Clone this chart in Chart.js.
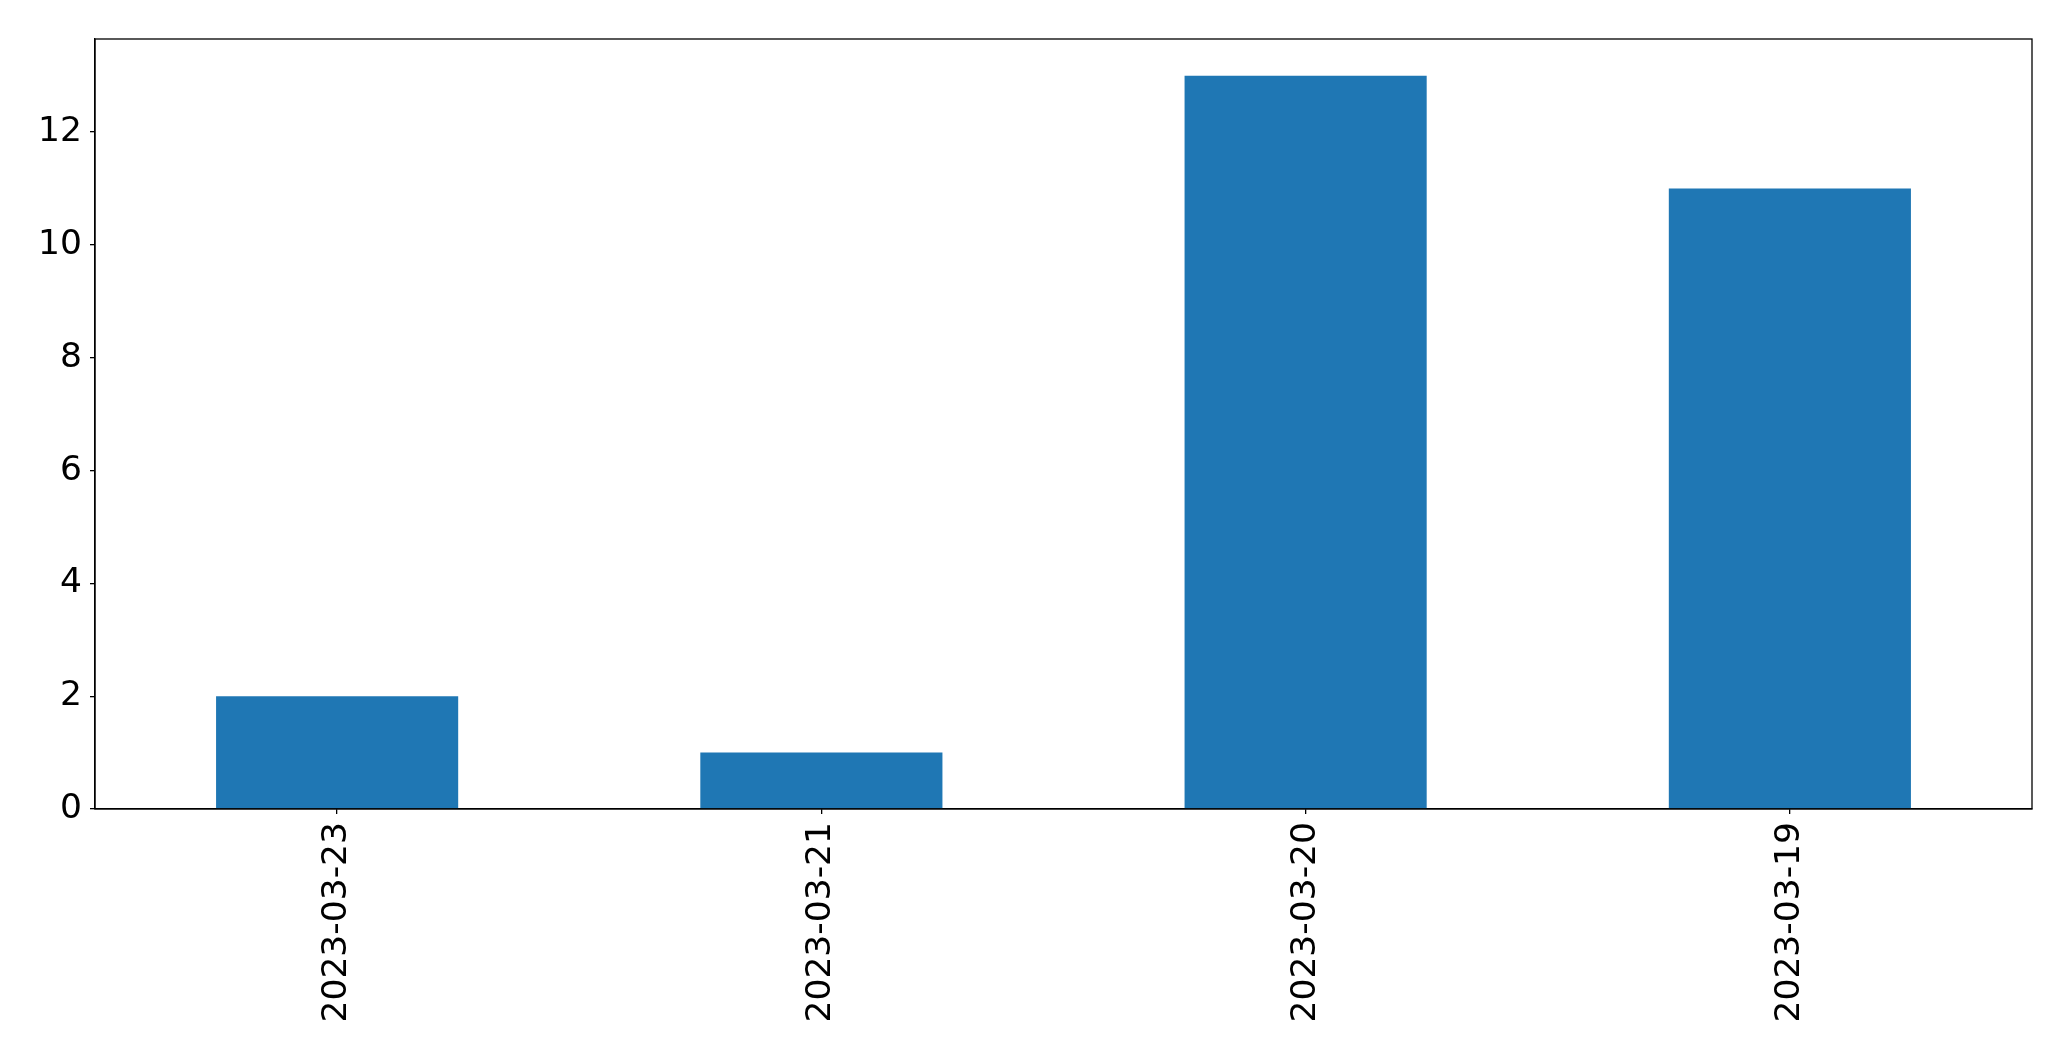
<!DOCTYPE html>
<html>
<head>
<meta charset="utf-8">
<script src="https://cdn.jsdelivr.net/npm/chart.js@4.4.0/dist/chart.umd.min.js"></script>
<style>
  html, body { margin: 0; padding: 0; background: #fff; }
  #wrap { width: 2071px; height: 1061px; position: relative; }
</style>
</head>
<body>
<div id="wrap"><canvas id="myChart"></canvas></div>
<script>
var labels = ["2023-03-23", "2023-03-21", "2023-03-20", "2023-03-19"];
var counts = [2, 1, 13, 11];
var yTicks = [0, 2, 4, 6, 8, 10, 12];
var yMax = 13.65;

// box around the plot area, like the matplotlib frame
var frame = {
    id: "frame",
    afterDraw: function(chart){
        var a = chart.chartArea;
        var c = chart.ctx;
        c.save();
        c.strokeStyle = "#000";
        c.lineWidth = 1.3;
        c.strokeRect(a.left, a.top, a.right - a.left, a.bottom - a.top);
        c.restore();
    }
};

var ctx = document.getElementById("myChart").getContext("2d");

var myChart = new Chart(ctx, {
    type: "bar",
    data: {
        labels: labels,
        datasets: [{
            data: counts,
            backgroundColor: "#1f77b4",
            borderWidth: 0,
            categoryPercentage: 1.0,
            barPercentage: 0.5
        }]
    },
    options: {
        responsive: true,
        maintainAspectRatio: false,
        animation: false,
        layout: { padding: { top: 39, right: 39, left: 0, bottom: 0 } },
        plugins: {
            legend: { display: false },
            tooltip: { enabled: false }
        },
        scales: {
            x: {
                grid: { offset: false, drawOnChartArea: false, drawTicks: true, tickLength: 5, color: "#000", lineWidth: 1.3 },
                border: { color: "#000", width: 1.3 },
                ticks: {
                    color: "#000",
                    font: { family: "DejaVu Sans", size: 34.5 },
                    minRotation: 90,
                    maxRotation: 90,
                    padding: 8,
                    autoSkip: false
                },
                afterFit: function(scale){ scale.height = 252; }
            },
            y: {
                min: 0,
                max: yMax,
                grid: { drawOnChartArea: false, drawTicks: true, tickLength: 5, color: "#000", lineWidth: 1.3 },
                border: { color: "#000", width: 1.3 },
                ticks: {
                    color: "#000",
                    font: { family: "DejaVu Sans", size: 34.5 },
                    padding: 8
                },
                afterBuildTicks: function(scale){
                    scale.ticks = yTicks.map(function(v){ return { value: v }; });
                },
                afterFit: function(scale){ scale.width = 95; }
            }
        }
    },
    plugins: [frame]
});
</script>
</body>
</html>
